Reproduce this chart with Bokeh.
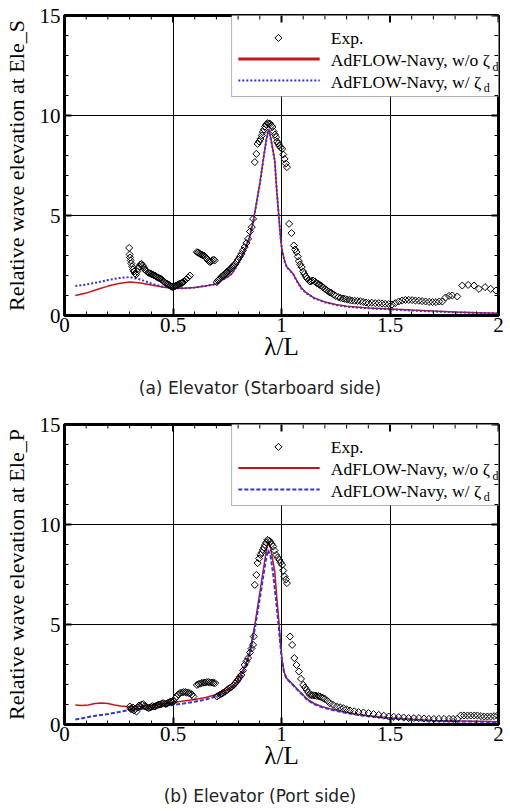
import numpy as np
from bokeh.plotting import figure
from bokeh.layouts import column
from bokeh.models import (Range1d, SingleIntervalTicker, Label, Div,
                          BoxAnnotation, NumeralTickFormatter)
from bokeh.embed import file_html
from bokeh.resources import INLINE

# ---------------- data: (a) starboard side ----------------
a_exp_x = [0.298, 0.300, 0.302, 0.305, 0.308, 0.312, 0.316, 0.320, 0.325, 0.330, 0.335, 0.340,
           0.345, 0.350, 0.355, 0.360, 0.365, 0.370, 0.375, 0.380, 0.385, 0.390, 0.395, 0.400,
           0.405, 0.410, 0.415, 0.420, 0.425, 0.430, 0.435, 0.440, 0.445, 0.450, 0.455, 0.460,
           0.465, 0.470, 0.475, 0.480, 0.485, 0.490, 0.495, 0.500, 0.505, 0.510, 0.515, 0.520,
           0.525, 0.530, 0.535, 0.540, 0.545, 0.550, 0.560, 0.570, 0.578,
           0.610, 0.615, 0.620, 0.625, 0.630, 0.635, 0.640, 0.645, 0.650, 0.655, 0.660, 0.665,
           0.670, 0.675, 0.680, 0.687, 0.692,
           0.702, 0.707, 0.712, 0.717, 0.722, 0.727, 0.732, 0.737, 0.742, 0.747, 0.752, 0.757,
           0.762, 0.767, 0.772, 0.777, 0.782, 0.787, 0.793, 0.800, 0.808, 0.815, 0.822, 0.830,
           0.838, 0.846, 0.855, 0.863, 0.869,
           0.877, 0.884, 0.890, 0.897, 0.903, 0.909, 0.914, 0.919, 0.924, 0.930, 0.935, 0.941,
           0.948, 0.953, 0.958, 0.964, 0.970, 0.975, 0.980, 0.985, 0.990, 0.996, 1.003, 1.008,
           1.014, 1.020, 1.025,
           1.035, 1.046, 1.057, 1.063, 1.069, 1.075, 1.080, 1.086, 1.093, 1.100, 1.105, 1.112,
           1.118, 1.125, 1.131, 1.138, 1.145, 1.154, 1.162, 1.170, 1.177, 1.185, 1.192, 1.200,
           1.208, 1.216, 1.224, 1.231, 1.240, 1.250, 1.262, 1.272, 1.283, 1.293, 1.303, 1.314,
           1.324, 1.337, 1.350, 1.363, 1.376, 1.389, 1.401, 1.416, 1.432, 1.448, 1.463, 1.478,
           1.494, 1.509, 1.524, 1.540, 1.556, 1.571, 1.586, 1.602, 1.617, 1.633, 1.648, 1.664,
           1.680, 1.696, 1.712, 1.727, 1.741, 1.756, 1.772, 1.787, 1.810, 1.833, 1.860, 1.887,
           1.910, 1.938, 1.964, 1.988]
a_exp_y = [3.38, 3.05, 2.90, 2.75, 2.60, 2.45, 2.30, 2.20, 2.10, 2.05, 2.20, 2.35,
           2.45, 2.55, 2.58, 2.50, 2.40, 2.30, 2.25, 2.20, 2.15, 2.12, 2.10, 2.08,
           2.05, 2.02, 2.00, 1.97, 1.93, 1.90, 1.87, 1.85, 1.83, 1.78, 1.72, 1.68,
           1.63, 1.60, 1.57, 1.55, 1.50, 1.47, 1.44, 1.42, 1.45, 1.48, 1.50, 1.53,
           1.56, 1.58, 1.60, 1.62, 1.66, 1.70, 1.80, 1.90, 2.00,
           3.17, 3.15, 3.12, 3.08, 3.05, 3.02, 3.00, 2.98, 2.92, 2.85, 2.78, 2.72,
           2.67, 2.70, 2.75, 2.80, 2.75,
           1.67, 1.75, 1.80, 1.85, 1.92, 1.97, 2.00, 2.05, 2.10, 2.17, 2.20, 2.25,
           2.30, 2.35, 2.42, 2.47, 2.52, 2.58, 2.67, 2.80, 2.95, 3.08, 3.25, 3.42,
           3.62, 3.83, 4.20, 4.42, 4.83,
           7.67, 8.08, 8.58, 8.70, 8.83, 9.00, 9.17, 9.30, 9.45, 9.55, 9.62, 9.60,
           9.58, 9.50, 9.42, 9.20, 9.05, 8.92, 8.70, 8.60, 8.50, 8.40, 8.33, 8.05,
           7.83, 7.60, 7.42,
           4.58, 4.12, 3.50, 3.30, 3.17, 2.95, 2.72, 2.55, 2.42, 2.20, 2.08, 1.95,
           1.85, 1.78, 1.70, 1.72, 1.75, 1.70, 1.62, 1.58, 1.53, 1.47, 1.40, 1.33,
           1.27, 1.20, 1.15, 1.12, 1.05, 0.98, 0.92, 0.88, 0.85, 0.83, 0.80, 0.78,
           0.75, 0.74, 0.73, 0.72, 0.68, 0.65, 0.62, 0.64, 0.62, 0.62, 0.60, 0.58,
           0.57, 0.55, 0.62, 0.70, 0.75, 0.78, 0.78, 0.77, 0.75, 0.74, 0.72, 0.70,
           0.68, 0.67, 0.67, 0.70, 0.70, 0.90, 0.98, 1.00, 0.95, 1.50, 1.53, 1.50,
           1.33, 1.42, 1.33, 1.25]

a_wo_x = [0.05, 0.10, 0.15, 0.20, 0.25, 0.30, 0.35, 0.40, 0.45, 0.50, 0.55, 0.60, 0.65,
          0.70, 0.722, 0.75, 0.77, 0.79, 0.815, 0.835, 0.853, 0.872, 0.90, 0.92, 0.93,
          0.941, 0.953, 0.969, 0.977, 0.988, 0.997, 1.003, 1.015, 1.025, 1.04, 1.054,
          1.07, 1.09, 1.11, 1.15, 1.20, 1.25, 1.30, 1.40, 1.50, 1.60, 1.70, 1.80, 1.90, 2.00]
a_wo_y = [1.00, 1.12, 1.30, 1.47, 1.60, 1.67, 1.62, 1.52, 1.42, 1.36, 1.36, 1.40, 1.48,
          1.58, 1.75, 1.92, 2.08, 2.40, 2.92, 3.40, 3.92, 4.83, 6.60, 8.10, 8.80,
          9.33, 8.75, 7.75, 6.42, 4.92, 3.75, 3.25, 2.70, 2.42, 2.25, 2.08,
          1.75, 1.40, 1.17, 0.88, 0.68, 0.55, 0.46, 0.38, 0.33, 0.27, 0.22, 0.17, 0.14, 0.11]

a_w_x = [0.05, 0.10, 0.15, 0.20, 0.25, 0.30, 0.35, 0.40, 0.45, 0.50, 0.55, 0.60, 0.65,
         0.70, 0.722, 0.75, 0.77, 0.79, 0.815, 0.835, 0.853, 0.872, 0.90, 0.92, 0.93,
         0.941, 0.953, 0.969, 0.977, 0.988, 0.997, 1.003, 1.015, 1.025, 1.04, 1.054,
         1.07, 1.09, 1.11, 1.15, 1.20, 1.25, 1.30, 1.40, 1.50, 1.60, 1.70, 1.80, 1.90, 2.00]
a_w_y = [1.47, 1.55, 1.65, 1.77, 1.87, 1.92, 1.80, 1.60, 1.45, 1.37, 1.36, 1.40, 1.48,
         1.58, 1.75, 1.92, 2.08, 2.40, 2.92, 3.40, 3.92, 4.83, 6.55, 8.05, 8.75,
         9.28, 8.70, 7.70, 6.40, 4.90, 3.72, 3.22, 2.68, 2.40, 2.23, 2.06,
         1.73, 1.38, 1.15, 0.86, 0.66, 0.53, 0.44, 0.36, 0.31, 0.25, 0.20, 0.16, 0.13, 0.10]

# ---------------- data: (b) port side ----------------
b_exp_x = [0.301, 0.305, 0.309, 0.315, 0.320, 0.326, 0.332, 0.338, 0.344, 0.350, 0.356, 0.363,
           0.370, 0.376, 0.382, 0.388, 0.394, 0.400, 0.406, 0.412, 0.418, 0.424, 0.430, 0.436,
           0.442, 0.448, 0.455, 0.461, 0.467, 0.473, 0.479, 0.485, 0.491, 0.497, 0.503,
           0.510, 0.517, 0.524, 0.532, 0.540, 0.548, 0.556, 0.563, 0.571, 0.579, 0.587, 0.594,
           0.610, 0.618, 0.626, 0.633, 0.641, 0.648, 0.656, 0.664, 0.672, 0.680, 0.687, 0.694,
           0.702, 0.710, 0.718, 0.726, 0.733, 0.741, 0.749, 0.757, 0.765, 0.772, 0.780, 0.787,
           0.793, 0.800, 0.808, 0.815, 0.823, 0.830, 0.838, 0.846, 0.855, 0.862, 0.869, 0.872,
           0.877, 0.884, 0.890, 0.897, 0.903, 0.909, 0.914, 0.919, 0.924, 0.930, 0.935, 0.941,
           0.948, 0.955, 0.962, 0.968, 0.975, 0.982, 0.990, 0.996, 1.003, 1.008, 1.014, 1.020,
           1.025,
           1.039, 1.049, 1.059, 1.069, 1.080, 1.090, 1.100, 1.108, 1.116, 1.124, 1.131, 1.139,
           1.146, 1.154, 1.162, 1.170, 1.177, 1.185, 1.192, 1.200, 1.212, 1.223, 1.238, 1.254,
           1.270, 1.285, 1.300, 1.316, 1.335, 1.355, 1.378, 1.401, 1.424, 1.448, 1.471, 1.494,
           1.517, 1.540, 1.563, 1.586, 1.610, 1.633, 1.656, 1.679, 1.702, 1.725, 1.749, 1.772,
           1.791, 1.810, 1.826, 1.841, 1.857, 1.872, 1.888, 1.903, 1.919, 1.934, 1.949, 1.964,
           1.980, 1.995]
b_exp_y = [0.90, 0.80, 0.75, 0.85, 0.70, 0.78, 0.65, 0.85, 0.95, 0.90, 1.00, 1.02,
           0.92, 0.88, 0.85, 0.82, 0.85, 0.88, 0.92, 0.90, 0.90, 0.95, 0.98, 1.00,
           1.00, 1.05, 1.07, 1.05, 1.02, 1.05, 1.10, 1.12, 1.15, 1.12, 1.15,
           1.30, 1.40, 1.50, 1.57, 1.60, 1.62, 1.62, 1.60, 1.58, 1.57, 1.50, 1.40,
           1.98, 2.02, 2.05, 2.07, 2.10, 2.10, 2.12, 2.12, 2.10, 2.10, 2.08, 2.07,
           1.40, 1.45, 1.50, 1.55, 1.60, 1.65, 1.72, 1.80, 1.85, 1.90, 1.98, 2.07,
           2.15, 2.25, 2.38, 2.48, 2.70, 2.98, 3.15, 3.32, 3.60, 3.80, 3.98, 4.40,
           6.98, 7.48, 8.07, 8.30, 8.48, 8.60, 8.73, 8.85, 8.98, 9.10, 9.23, 9.20,
           9.15, 9.02, 8.90, 8.70, 8.48, 8.35, 8.23, 8.10, 7.98, 7.70, 7.40, 7.25,
           7.07,
           4.40, 3.98, 3.32, 2.98, 2.65, 2.28, 1.98, 1.85, 1.73, 1.60, 1.48, 1.47,
           1.46, 1.45, 1.43, 1.42, 1.40, 1.35, 1.32, 1.28, 1.18, 1.07, 0.98, 0.90,
           0.86, 0.82, 0.76, 0.70, 0.66, 0.62, 0.60, 0.57, 0.52, 0.48, 0.44, 0.40,
           0.38, 0.37, 0.35, 0.32, 0.32, 0.32, 0.30, 0.28, 0.28, 0.28, 0.28, 0.28,
           0.28, 0.28, 0.45, 0.45, 0.45, 0.45, 0.45, 0.45, 0.42, 0.40, 0.40, 0.40,
           0.42, 0.45]

b_wo_x = [0.05, 0.08, 0.11, 0.14, 0.17, 0.20, 0.23, 0.26, 0.30, 0.35, 0.40, 0.45, 0.50,
          0.55, 0.60, 0.65, 0.70, 0.722, 0.75, 0.77, 0.79, 0.815, 0.835, 0.853, 0.877,
          0.90, 0.92, 0.93, 0.938, 0.95, 0.969, 0.978, 0.988, 0.996, 1.003, 1.013, 1.023,
          1.046, 1.07, 1.093, 1.12, 1.15, 1.185, 1.23, 1.277, 1.33, 1.386, 1.45, 1.509,
          1.60, 1.694, 1.80, 1.90, 2.00]
b_wo_y = [0.98, 0.95, 0.97, 1.05, 1.08, 1.05, 0.98, 0.92, 0.88, 0.90, 0.95, 1.02, 1.10,
          1.18, 1.25, 1.35, 1.50, 1.60, 1.75, 1.85, 2.10, 2.57, 3.00, 3.60, 4.98,
          6.60, 8.00, 8.70, 9.15, 8.80, 7.65, 6.40, 5.15, 4.00, 3.15, 2.60, 2.32,
          2.07, 1.80, 1.55, 1.25, 1.05, 0.90, 0.77, 0.65, 0.55, 0.45, 0.38, 0.32,
          0.26, 0.20, 0.18, 0.16, 0.14]

b_w_x = [0.05, 0.10, 0.15, 0.20, 0.25, 0.30, 0.35, 0.40, 0.45, 0.50, 0.55, 0.60, 0.65,
         0.70, 0.722, 0.75, 0.77, 0.79, 0.815, 0.835, 0.853, 0.877, 0.90, 0.92, 0.93,
         0.938, 0.95, 0.962, 0.975, 0.988, 1.00, 1.012, 1.023, 1.046, 1.07, 1.093, 1.12,
         1.15, 1.185, 1.23, 1.277, 1.33, 1.386, 1.45, 1.509, 1.60, 1.694, 1.80, 1.90, 2.00]
b_w_y = [0.25, 0.35, 0.45, 0.52, 0.62, 0.73, 0.78, 0.82, 0.90, 0.98, 1.05, 1.14, 1.25,
         1.40, 1.48, 1.62, 1.75, 1.95, 2.40, 2.90, 3.50, 4.80, 6.30, 7.70, 8.35,
         8.73, 8.40, 7.50, 6.20, 4.80, 3.40, 2.60, 2.30, 2.05, 1.77, 1.52, 1.22,
         1.02, 0.87, 0.74, 0.62, 0.52, 0.43, 0.36, 0.30, 0.24, 0.18, 0.16, 0.14, 0.12]

x_tick_interval = 0.5
y_tick_interval = 5
x_max = 2.0
y_max = 15.0

SERIF = "Liberation Serif"
RED = "#C8141E"
BLUE = "#3434D2"


def make_panel(ylabel, exp_x, exp_y, wo_x, wo_y, w_x, w_y,
               blue_dash, legend_red_w, border_top, border_bottom):
    xt = SingleIntervalTicker(interval=x_tick_interval, num_minor_ticks=5)
    yt = SingleIntervalTicker(interval=y_tick_interval, num_minor_ticks=5)
    p = figure(frame_width=434, frame_height=300,
               x_range=Range1d(0, x_max), y_range=Range1d(0, y_max),
               output_backend="svg", toolbar_location=None,
               min_border_left=63, min_border_right=13,
               min_border_top=border_top, min_border_bottom=border_bottom,
               background_fill_color="white", border_fill_color="white")
    p.outline_line_color = "black"
    p.outline_line_width = 3

    # grid
    p.xgrid.ticker = xt
    p.ygrid.ticker = yt
    for g in (p.xgrid, p.ygrid):
        g.grid_line_color = "black"
        g.grid_line_width = 1
        g.grid_line_alpha = 1.0

    # axes
    p.xaxis.ticker = xt
    p.yaxis.ticker = yt
    p.xaxis.formatter = NumeralTickFormatter(format="0.[0]")
    p.xaxis.axis_label = "λ/L"
    p.yaxis.axis_label = ylabel
    for axs in (p.xaxis, p.yaxis):
        axs.axis_line_width = 3
        axs.axis_line_color = "black"
        axs.major_tick_in = 7
        axs.major_tick_out = 0
        axs.minor_tick_in = 4
        axs.minor_tick_out = 0
        axs.major_tick_line_width = 2
        axs.major_tick_line_color = "black"
        axs.minor_tick_line_color = "black"
        axs.major_label_text_font = SERIF
        axs.major_label_text_font_size = "21px"
        axs.major_label_text_color = "black"
        axs.axis_label_text_font = SERIF
        axs.axis_label_text_font_style = "normal"
        axs.axis_label_text_color = "black"
    p.xaxis.major_label_standoff = 2
    p.yaxis.major_label_standoff = 4
    p.xaxis.axis_label_text_font_size = "25px"
    p.yaxis.axis_label_text_font_size = "22px"
    p.xaxis.axis_label_standoff = -2
    p.yaxis.axis_label_standoff = 8

    # mirrored inward ticks on the top and right edges of the frame
    xs_minor = np.arange(0.0, x_max + 1e-9, x_tick_interval / 5)
    xs_major = np.arange(0.0, x_max + 1e-9, x_tick_interval)
    ys_minor = np.arange(0.0, y_max + 1e-9, y_tick_interval / 5)
    ys_major = np.arange(0.0, y_max + 1e-9, y_tick_interval)
    p.ray(x=xs_minor, y=y_max, length=4, length_units="screen", angle=-np.pi / 2,
          line_color="black", line_width=1)
    p.ray(x=xs_major, y=y_max, length=7, length_units="screen", angle=-np.pi / 2,
          line_color="black", line_width=2)
    p.ray(x=x_max, y=ys_minor, length=4, length_units="screen", angle=np.pi,
          line_color="black", line_width=1)
    p.ray(x=x_max, y=ys_major, length=7, length_units="screen", angle=np.pi,
          line_color="black", line_width=2)

    # data
    p.line(wo_x, wo_y, line_color=RED, line_width=1.5)
    p.line(w_x, w_y, line_color=BLUE, line_width=2, line_dash=blue_dash)
    p.scatter(exp_x, exp_y, marker="square", angle=np.pi / 4, size=5,
              fill_color=None, line_color="black", line_width=1)

    # legend (drawn by hand so the subscript can be shown)
    p.add_layout(BoxAnnotation(left=0.770, right=2.037, bottom=10.95, top=15.1,
                               fill_color="white", fill_alpha=1.0,
                               line_color="black", line_width=1, level="underlay"))
    p.scatter([0.986], [13.88], marker="square", angle=np.pi / 4, size=5,
              fill_color=None, line_color="black", line_width=1)
    p.line([0.801, 1.176], [12.83, 12.83], line_color=RED, line_width=legend_red_w)
    p.line([0.801, 1.176], [11.75, 11.75], line_color=BLUE, line_width=2,
           line_dash=blue_dash)
    for txt, yy in (("Exp.", 13.88), ("AdFLOW-Navy, w/o ζ", 12.79),
                    ("AdFLOW-Navy, w/ ζ", 11.70)):
        p.add_layout(Label(x=1.227, y=yy, text=txt, text_font=SERIF,
                           text_font_size="17.5px", text_baseline="middle",
                           text_align="left", text_color="black"))
    for xx, yy in ((1.972, 12.45), (1.932, 11.36)):
        p.add_layout(Label(x=xx, y=yy, text="d", text_font=SERIF,
                           text_font_size="12px", text_baseline="middle",
                           text_align="left", text_color="black"))
    return p


def make_caption(text, h):
    return Div(text=f'<div style="padding-left:10px">{text}</div>',
               width=510, height=h, margin=0,
               styles={"text-align": "center", "font-family": "DejaVu Sans",
                       "font-size": "17px", "color": "#222222",
                       "line-height": f"{h}px", "white-space": "nowrap"})


p1 = make_panel("Relative wave elevation at Ele_S",
                a_exp_x, a_exp_y, a_wo_x, a_wo_y, a_w_x, a_w_y,
                "2 2", 3, 15, 58)
p2 = make_panel("Relative wave elevation at Ele_P",
                b_exp_x, b_exp_y, b_wo_x, b_wo_y, b_w_x, b_w_y,
                "4 2", 2, 20, 58)
cap1 = make_caption("(a) Elevator (Starboard side)", 31)
cap2 = make_caption("(b) Elevator (Port side)", 29)

p = column(p1, cap1, p2, cap2, spacing=0)
open("out.html", "w").write(file_html(p, INLINE))
